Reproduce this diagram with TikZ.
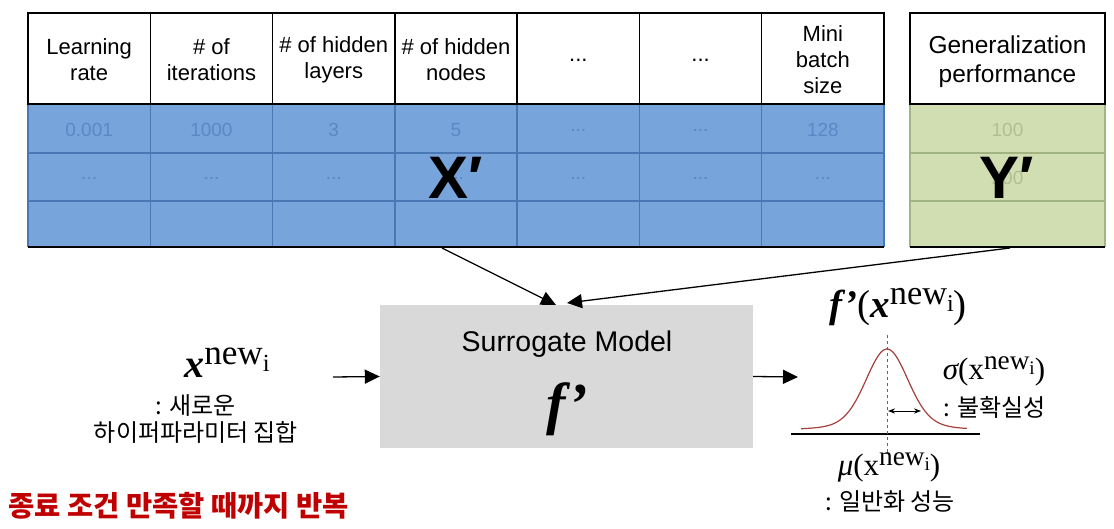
\documentclass[tikz,border=0pt]{standalone}
\usepackage{fontspec}
\usepackage{graphicx}
\setmainfont{Liberation Sans}
\newfontfamily\krfont{Noto Sans CJK KR}
\newfontfamily\tnr{Liberation Serif}
\usetikzlibrary{positioning,arrows.meta}

\definecolor{cellblue}{HTML}{77A4DB}
\definecolor{lineblue}{HTML}{4A78B4}
\definecolor{valblue}{HTML}{5A88C4}
\definecolor{cellgreen}{HTML}{D1DEB1}
\definecolor{linegreen}{HTML}{A3B483}
\definecolor{valgreen}{HTML}{B0BF92}
\definecolor{boxgray}{HTML}{D9D9D9}
\definecolor{gausscol}{HTML}{A5413D}
\definecolor{loopred}{HTML}{C00000}

\tikzset{%
  head/.style={align=center,inner sep=0pt,font=\fontsize{22}{26}\selectfont},
  val/.style={inner sep=0pt,font=\fontsize{19}{22}\selectfont},
  big/.style={inner sep=0pt,font=\fontsize{60}{60}\selectfont\bfseries},
  kr/.style={align=center,inner sep=0pt,font=\krfont\fontsize{24}{27}\selectfont},
  arr/.style={-{Triangle[length=15pt,width=14pt]},line width=1.3pt}
}

% x^{new_i} set with text fonts
\newcommand{\supnew}{\raisebox{0.32em}{\scalebox{0.88}{\tnr new\raisebox{-0.2em}{\scalebox{0.7}{i}}}}}
\newcommand{\xnew}{{\tnr\bfseries\itshape x}\supnew}
\newcommand{\xnewup}{{\tnr x}\supnew}
\newcommand{\fpr}{{\tnr\bfseries\itshape f’}}
\newcommand{\dd}{...}

\begin{document}
\begin{tikzpicture}[x=1pt,y=-1pt]
    \useasboundingbox (0,0) rectangle (1114,529);

    \def\cw{122.29}
    
    % X' table body
    \fill[cellblue] (28,104) rectangle (884,247);
    \foreach \y in {153,201}
        \draw[lineblue,line width=1.5pt] (28,\y) -- (884,\y);
    \foreach \i in {0,...,7}
        \draw[lineblue,line width=1.5pt] ({28+\i*\cw},104) -- ({28+\i*\cw},247);
    \draw[line width=1.5pt] (28,247) -- (884,247);
    
    % X' table header
    \draw[line width=1.5pt] (28,13) rectangle (884,104);
    \foreach \i in {1,...,6}
        \draw[line width=1.5pt] ({28+\i*\cw},13) -- ({28+\i*\cw},104);
    \foreach \t [count=\i] in {{Learning\\rate},{\# of\\iterations},{\# of hidden\\layers},{\# of hidden\\nodes},\dd,\dd,{Mini\\batch\\size}}
        \node[head] (h\i) at ({28+(\i-0.5)*\cw},60) {\t};
    
    % Values
    \foreach \v [count=\i] in {0.001,1000,3,5,\dd,\dd,128}
        \node[val,text=valblue] (a\i) at ({28+(\i-0.5)*\cw},130) {\v};
    \foreach \i in {1,...,7}
        \node[val,text=valblue] (b\i) at ({28+(\i-0.5)*\cw},178) {\dd};
    \node[big] (X) at (456,178) {X′};
    
    % Y' table
    \fill[cellgreen] (910,104) rectangle (1105,247);
    \foreach \y in {153,201}
        \draw[linegreen,line width=1.5pt] (910,\y) -- (1105,\y);
    \draw[linegreen,line width=1.5pt] (910,104) -- (910,247) (1105,104) -- (1105,247);
    \draw[line width=1.5pt] (910,247) -- (1105,247);
    \draw[line width=1.5pt] (910,13) rectangle (1105,104);
    \node[head,font=\fontsize{24.5}{29}\selectfont] (hy) at (1007.5,62) {Generalization\\performance};
    \node[val,text=valgreen] (ya) at (1007.5,130) {100};
    \node[val,text=valgreen] (yb) at (1007.5,178) {200};
    \node[big] (Y) at (1007,178) {Y′};
    
    % Surrogate model
    \node[fill=boxgray,minimum width=373,minimum height=143,inner sep=0pt] (sm) at (566.5,376.5) {};
    \node[inner sep=0pt,font=\fontsize{28.5}{30}\selectfont] (smlabel) at (567,344) {Surrogate Model};
    \node[inner sep=0pt,font=\tnr\fontsize{58}{60}\selectfont\bfseries\itshape] (fp) at (567,409) {f’};
    
    \coordinate (xout) at (442,248);
    \coordinate (yout) at (1010,248);
    \coordinate (xtip) at (556,305);
    \coordinate (ytip) at (567,303);
    \draw[arr] (xout) -- (xtip);
    \draw[arr] (yout) -- (ytip);
    
    % Input
    \node[inner sep=0pt,font=\fontsize{40}{42}\selectfont] (xin) at (227,363) {\xnew};
    \node[kr] (xdesc) at (196,419) {: 새로운\\하이퍼파라미터 집합};
    \coordinate (inl) at (333,377);
    \draw[arr] (inl) -- (sm.west);
    
    % Output distribution
    \coordinate (outr) at (798,377);
    \draw[arr] (sm.east) -- (outr);
    \node[inner sep=0pt,font=\fontsize{39}{42}\selectfont] (fout) at (898,307) {\fpr{\tnr(}\xnew{\tnr)}};
    
    \coordinate (bl) at (791,434);
    \coordinate (br) at (980,434);
    \draw[line width=1.5pt] (bl) -- (br);
    \coordinate (mutop) at (887,335);
    \coordinate (mubot) at (887,453);
    \draw[gray!80!black,dashed,line width=1pt] (mutop) -- (mubot);
    \draw[gausscol,line width=1.2pt,smooth,samples=90,domain=801:967]
        plot (\x,{431-82*(0.75*exp(-((\x-887)*(\x-887))/882)+0.25/(1+((\x-887)*(\x-887))/900))});
    \coordinate (sl) at (888,411);
    \coordinate (sr) at (921,411);
    \draw[{Stealth[length=7pt]}-{Stealth[length=7pt]},line width=1pt] (sl) -- (sr);
    
    \node[inner sep=0pt,font=\tnr\fontsize{31}{33}\selectfont] (sig) at (994,371) {{\itshape σ}(\xnewup)};
    \node[kr] (sigdesc) at (995,407) {: 불확실성};
    \node[inner sep=0pt,font=\tnr\fontsize{31}{33}\selectfont] (mu) at (889,467) {{\itshape μ}(\xnewup)};
    \node[kr] (mudesc) at (890,502) {: 일반화 성능};
    
    % Loop note
    \node[anchor=west,inner sep=0pt,text=loopred,font=\krfont\fontsize{28.5}{30}\selectfont\bfseries] (loop) at (8,506) {종료 조건 만족할 때까지 반복};

\end{tikzpicture}
\end{document}
